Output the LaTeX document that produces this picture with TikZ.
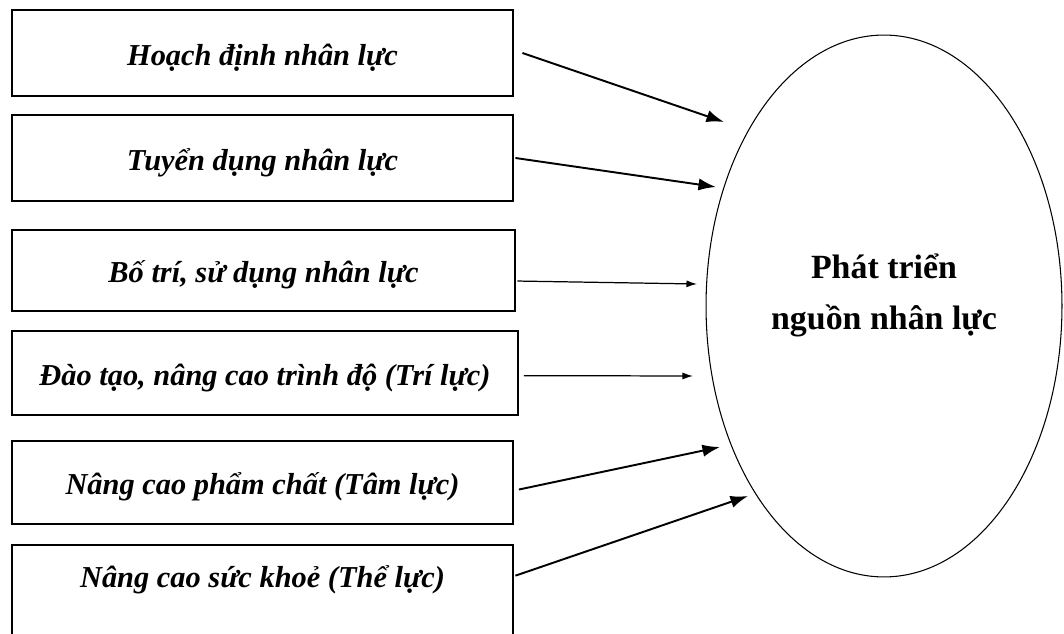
\documentclass[tikz,border=0pt]{standalone}
\usepackage{fontspec}
\setmainfont{Liberation Serif}
\usetikzlibrary{arrows.meta,shapes.geometric}

\tikzset{
	hop/.style={draw, line width=0.8pt, minimum width=10.02cm, minimum height=1.72cm, inner sep=2pt,
		text height=17pt, text depth=3pt, font=\fontsize{17.3}{20}\selectfont\bfseries\itshape},
	muiten/.style={line width=1.1pt, -{Latex[length=10pt,width=7pt]}},
	muitenmanh/.style={line width=0.7pt, -{Latex[length=6pt,width=4pt]}}
}

\begin{document}
\begin{tikzpicture}[x=0.02cm, y=-0.02cm]
	\useasboundingbox (0,0) rectangle (1064,634);
	\node[hop] (b1) at (262.5,53) {Hoạch định nhân lực};
	\node[hop] (b2) at (262.5,158) {Tuyển dụng nhân lực};
	\node[hop, minimum width=10.06cm, minimum height=1.62cm] (b3) at (263.5,270.5) {Bố trí, sử dụng nhân lực};
	\node[hop, minimum width=10.12cm, minimum height=1.68cm] (b4) at (265,373) {Đào tạo, nâng cao trình độ (Trí lực)};
	\node[hop, minimum height=1.66cm] (b5) at (262.5,482.5) {Nâng cao phẩm chất (Tâm lực)};
	\node[hop, minimum height=2cm, text depth=25pt] (b6) at (262.5,595) {Nâng cao sức khoẻ (Thể lực)};
	\node[draw, ellipse, line width=0.6pt, minimum width=7.12cm, minimum height=10.84cm, inner sep=0pt] (ptnl) at (884,306) {};
	\node[align=center, font=\fontsize{19.3}{29.5}\selectfont\bfseries] (nhan) at ([yshift=6pt]ptnl.center) {Phát triển\\nguồn nhân lực};

	\coordinate (e1) at (724,122);
	\coordinate (e2) at (716,187);
	\coordinate (e3) at (697,284);
	\coordinate (e4) at (693,376);
	\coordinate (e5) at (720,447);
	\coordinate (e6) at (748,496);
	\draw[muiten] ([xshift=5pt]b1.east) -- (e1);
	\draw[muiten] ([xshift=1pt]b2.east) -- (e2);
	\draw[muitenmanh] ([xshift=1pt,yshift=-6pt]b3.east) -- (e3);
	\draw[muitenmanh] ([xshift=3pt,yshift=-1.5pt]b4.east) -- (e4);
	\draw[muiten] ([xshift=3pt,yshift=-4pt]b5.east) -- (e5);
	\draw[muiten] ([xshift=1pt,yshift=11pt]b6.east) -- (e6);
\end{tikzpicture}
\end{document}
